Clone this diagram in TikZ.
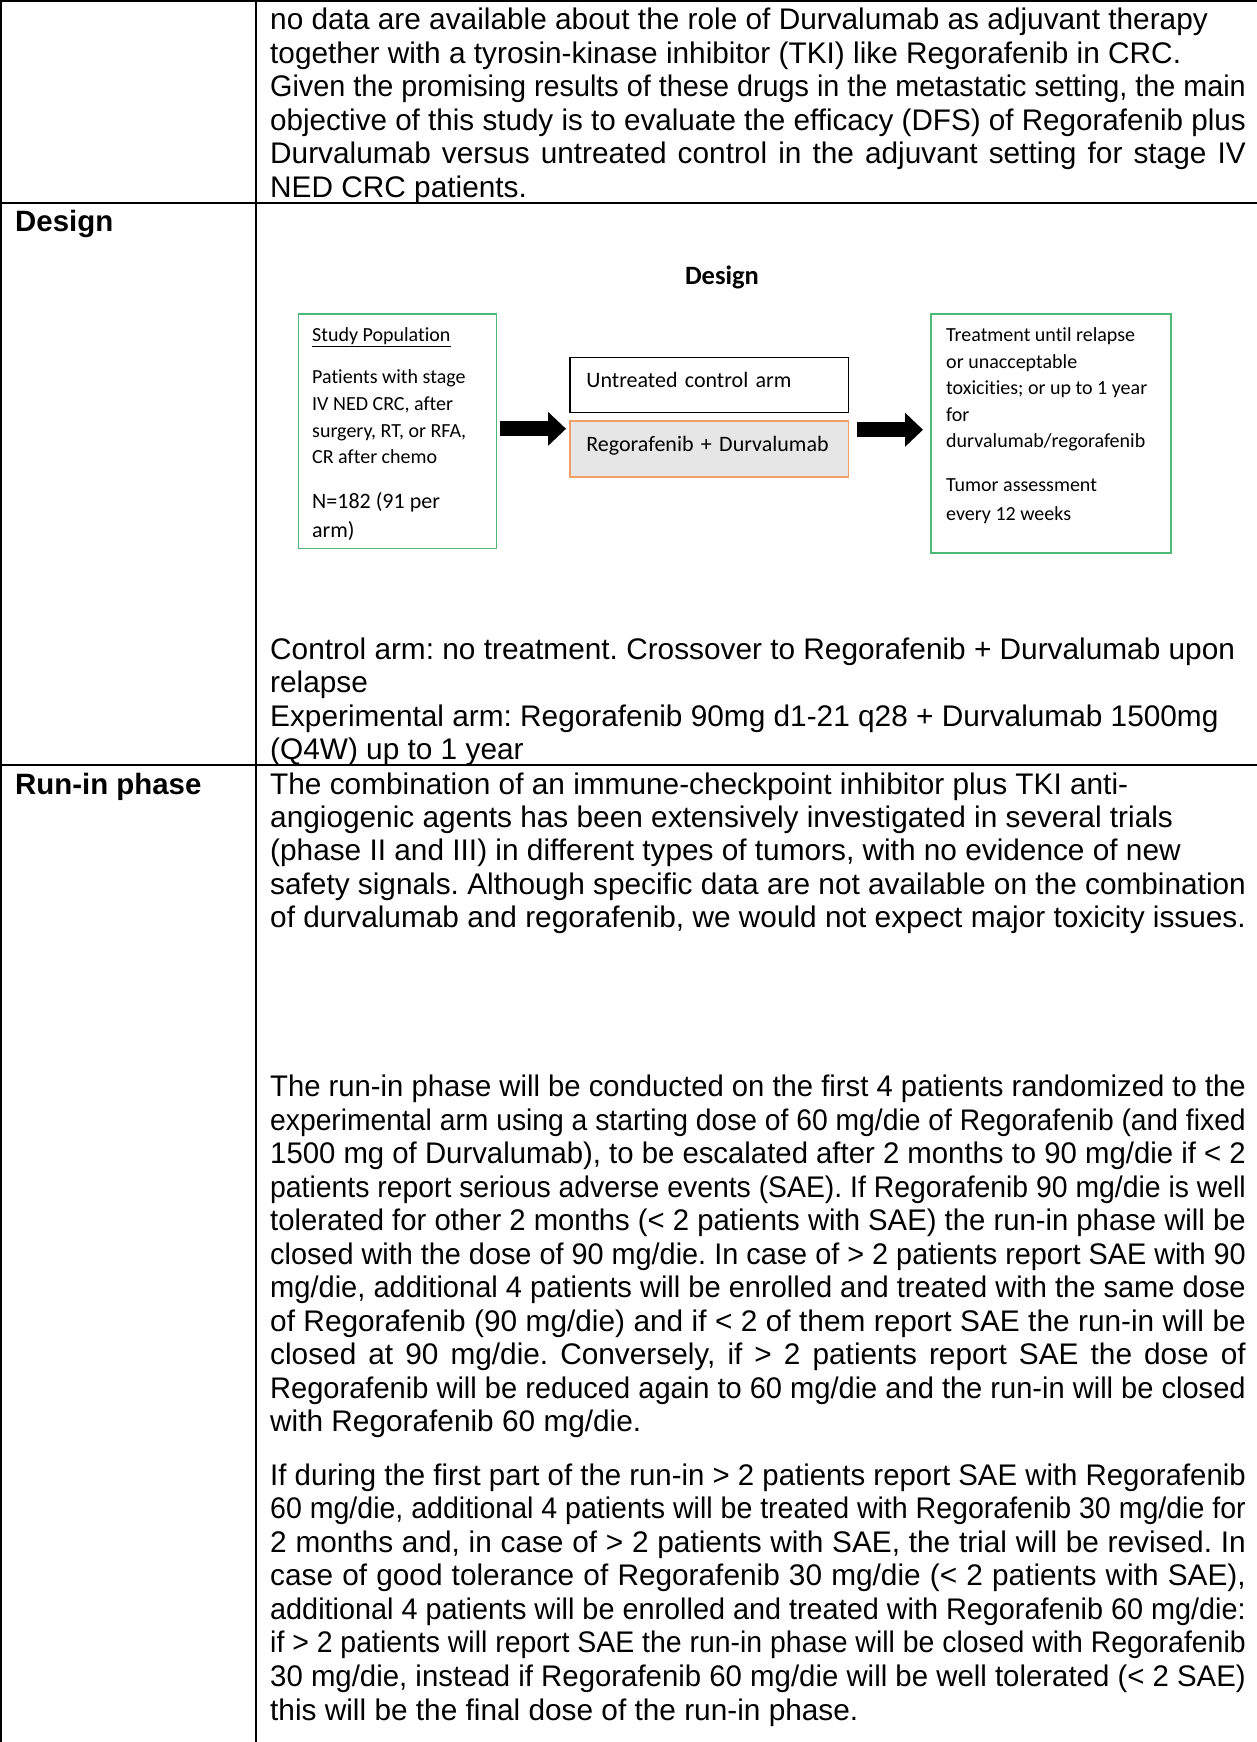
\documentclass[tikz,border=0pt]{standalone}
\usepackage{fontspec}
\usepackage{graphicx}
\setmainfont{Liberation Sans}
\newfontfamily\cfont[Ligatures=NoCommon]{Carlito}
\usetikzlibrary{positioning,arrows.meta}
\frenchspacing

\definecolor{popgreen}{RGB}{78,184,118}
\definecolor{exporange}{RGB}{240,160,100}
\definecolor{expgray}{RGB}{230,230,230}

\newsavebox\rowbox
\newcommand\rowline[2]{\sbox\rowbox{#2}%
  \ifdim\wd\rowbox>975.6pt \resizebox{975.6pt}{\height}{\usebox\rowbox}%
  \else\makebox[975.6pt][#1]{\spaceskip=0.278em plus 0.6em minus 0.1em\relax #2}\fi}

\begin{document}
\begin{tikzpicture}
    [x=1pt,y=-1pt,
     txt/.style={anchor=base west,inner sep=0pt,font=\fontsize{29.8}{33.5}\selectfont},
     lbl/.style={txt,font=\fontsize{29.4}{33.5}\selectfont\bfseries},
     rule/.style={line width=1.8pt},
     small/.style={anchor=base west,inner sep=0pt,font=\cfont\fontsize{20}{24}\selectfont},
     mid/.style={anchor=base west,inner sep=0pt,font=\cfont\fontsize{22}{26}\selectfont},
     grbox/.style={draw=popgreen,line width=1.6pt,anchor=north west,inner sep=0pt},
     armbox/.style={draw,line width=1.6pt,anchor=north west,minimum width=278.4pt,
       text width=245.8pt,inner xsep=16.3pt,inner ysep=0pt,align=left,
       text height=15pt,text depth=10pt,font=\cfont\fontsize{22}{26}\selectfont},
     blk/.style={line width=15pt,-{Triangle[length=18pt,width=33pt]}}]
  \useasboundingbox (0,0) rectangle (1257,1742);

  % table rules
  \draw[rule] (0,0.9) -- (1257,0.9);
  \draw[rule] (0,203) -- (1257,203);
  \draw[rule] (0,765) -- (1257,765);
  \draw[rule] (0.9,0) -- (0.9,1742);
  \draw[rule] (256,0) -- (256,1742);

  \node[lbl] (design) at (15,231) {Design};
  \node[lbl] (runin) at (15,794) {Run-in phase};

  % aim (end of previous row)
  \foreach \j/\t [count=\i] in {l/{no data are available about the role of Durvalumab as adjuvant therapy},
      l/{together with a tyrosin-kinase inhibitor (TKI) like Regorafenib in CRC.},
      s/{Given the promising results of these drugs in the metastatic setting, the main},
      s/{objective of this study is to evaluate the efficacy (DFS) of Regorafenib plus},
      s/{Durvalumab versus untreated control in the adjuvant setting for stage IV},
      l/{NED CRC patients.}}
    \node[txt] (aim\i) at (270,{30+33.4*(\i-1)}) {\rowline{\j}{\t}};

  % design diagram
  \node[anchor=base,inner sep=0pt,font=\cfont\fontsize{26.5}{30}\bfseries\selectfont] (dhead) at (722,284) {Design};
  \node[grbox,minimum width=197.8pt,minimum height=234.5pt] (pop) at (297.8,313.3) {};
  \node[grbox,minimum width=240pt,minimum height=238.9pt] (out) at (930,313.3) {};
  \node[armbox,minimum height=55pt] (arm) at (569.3,356.7) {Untreated control arm};
  \node[armbox,draw=exporange,fill=expgray,minimum height=56pt] (exp) at (569.3,420) {Regorafenib + Durvalumab};

  \node[small] (popt) at (312,341.4) {\underline{Study Population}};
  \foreach \yy/\t [count=\i] in {383.7/{Patients with stage}, 410.3/{IV NED CRC, after},
      437/{surgery, RT, or RFA,}, 463.7/{CR after chemo}}
    \node[small] (pop\i) at (312,\yy) {\t};
  \node[mid] (popn1) at (312,508) {N=182 (91 per};
  \node[mid] (popn2) at (312,537) {arm)};

  \foreach \yy/\t [count=\i] in {341.3/{Treatment until relapse}, 368/{or unacceptable},
      394.3/{toxicities; or up to 1 year}, 421/{for}, 447/{durvalumab/regorafenib},
      491.3/{Tumor assessment}, 520.3/{every 12 weeks}}
    \node[small] (out\i) at (946,\yy) {\t};

  \draw[blk,shorten <=2.7pt,shorten >=3.3pt] ([yshift=2.5pt]pop.east) -- ([yshift=2.5pt]pop.east -| exp.west);
  \draw[blk,shorten <=8pt,shorten >=7pt] ([yshift=3.8pt]out.west -| exp.east) -- ([yshift=3.8pt]out.west);

  \foreach \t [count=\i] in {{Control arm: no treatment. Crossover to Regorafenib + Durvalumab upon},
      {relapse}, {Experimental arm: Regorafenib 90mg d1-21 q28 + Durvalumab 1500mg},
      {(Q4W) up to 1 year}}
    \node[txt] (arms\i) at (270,{659+33.5*(\i-1)}) {\t};

  % run-in phase
  \foreach \t [count=\i] in {{The combination of an immune-checkpoint inhibitor plus TKI anti-},
      {angiogenic agents has been extensively investigated in several trials},
      {(phase II and III) in different types of tumors, with no evidence of new},
      {safety signals. Although specific data are not available on the combination},
      {of durvalumab and regorafenib, we would not expect major toxicity issues.}}
    \node[txt] (run\i) at (270,{794+33.4*(\i-1)}) {\t};

  \foreach \j/\t [count=\i] in {s/{The run-in phase will be conducted on the first 4 patients randomized to the},
      s/{experimental arm using a starting dose of 60 mg/die of Regorafenib (and fixed},
      s/{1500 mg of Durvalumab), to be escalated after 2 months to 90 mg/die if < 2},
      s/{patients report serious adverse events (SAE). If Regorafenib 90 mg/die is well},
      s/{tolerated for other 2 months (< 2 patients with SAE) the run-in phase will be},
      s/{closed with the dose of 90 mg/die. In case of > 2 patients report SAE with 90},
      s/{mg/die, additional 4 patients will be enrolled and treated with the same dose},
      s/{of Regorafenib (90 mg/die) and if < 2 of them report SAE the run-in will be},
      s/{closed at 90 mg/die. Conversely, if > 2 patients report SAE the dose of},
      s/{Regorafenib will be reduced again to 60 mg/die and the run-in will be closed},
      l/{with Regorafenib 60 mg/die.}}
    \node[txt] (esc\i) at (270,{1096.7+33.5*(\i-1)}) {\rowline{\j}{\t}};

  \foreach \j/\t [count=\i] in {s/{If during the first part of the run-in > 2 patients report SAE with Regorafenib},
      s/{60 mg/die, additional 4 patients will be treated with Regorafenib 30 mg/die for},
      s/{2 months and, in case of > 2 patients with SAE, the trial will be revised. In},
      s/{case of good tolerance of Regorafenib 30 mg/die (< 2 patients with SAE),},
      s/{additional 4 patients will be enrolled and treated with Regorafenib 60 mg/die:},
      s/{if > 2 patients will report SAE the run-in phase will be closed with Regorafenib},
      s/{30 mg/die, instead if Regorafenib 60 mg/die will be well tolerated (< 2 SAE)},
      l/{this will be the final dose of the run-in phase.}}
    \node[txt] (red\i) at (270,{1485+33.57*(\i-1)}) {\rowline{\j}{\t}};
\end{tikzpicture}
\end{document}
